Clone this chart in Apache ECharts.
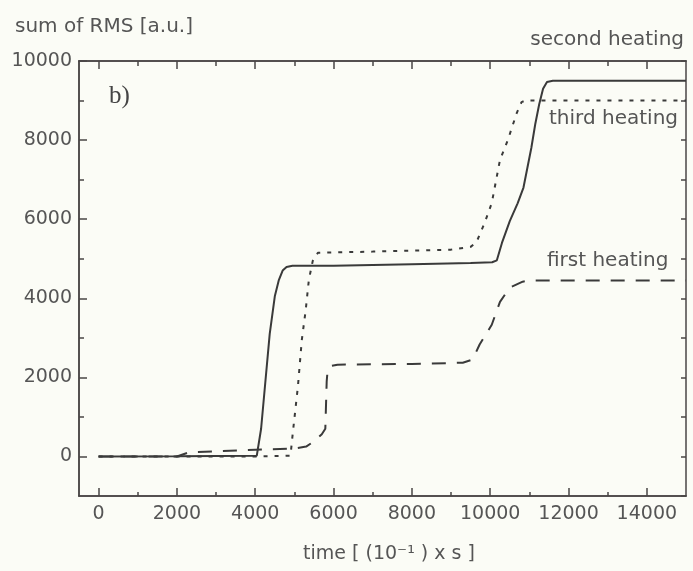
<!DOCTYPE html>
<html>
<head>
<meta charset="utf-8">
<script src="https://cdn.jsdelivr.net/npm/echarts@6/dist/echarts.min.js"></script>
<style>
html,body{margin:0;padding:0;background:#fbfcf6;}
#c{width:693px;height:571px;}
</style>
</head>
<body>
<div id="c"></div>
<script>
// ---- data (time [0.1 s], sum of RMS [a.u.]) ----
var firstHeating = [[0,0],[2000,0],[2300,100],[3000,130],[4000,170],[5000,200],[5300,250],[5500,380],[5700,560],[5790,700],[5825,1900],[5850,2200],[5950,2290],[6100,2320],[8000,2340],[9300,2370],[9550,2450],[9730,2830],[10040,3330],[10250,3910],[10500,4270],[10830,4420],[11000,4450],[15000,4450]];
var secondHeating = [[0,0],[2000,5],[4040,20],[4150,700],[4370,3100],[4500,4050],[4600,4450],[4700,4700],[4800,4790],[4950,4820],[6000,4820],[8000,4860],[9500,4890],[10050,4910],[10170,4960],[10300,5400],[10500,5950],[10700,6400],[10850,6800],[10950,7300],[11050,7800],[11150,8400],[11250,8900],[11350,9300],[11450,9470],[11600,9500],[15000,9500]];
var thirdHeating = [[0,0],[4000,0],[4900,20],[4960,600],[5090,1770],[5190,2950],[5290,3710],[5370,4470],[5470,4950],[5600,5150],[7000,5180],[9000,5230],[9500,5300],[9650,5420],[9860,5910],[10040,6410],[10250,7500],[10450,8000],[10680,8690],[10800,8960],[10900,9000],[15000,9000]];
var xMajorTicks = [0,2000,4000,6000,8000,10000,12000,14000];
var xMinorTicks = [1000,3000,5000,7000,9000,11000,13000];
var yMajorTicks = [0,2000,4000,6000,8000,10000];
var yMinorTicks = [1000,3000,5000,7000,9000];
var yRightTicks = [-1000,0,1000,2000,3000,4000,5000,6000,7000,8000,9000,10000];

var axisColor = '#4a4646';
var textColor = '#555';
var lineColor = '#3a3a3a';
var fontFam = 'DejaVu Sans';

function plain(v) { return String(v); }
function xAx(pos, ticks, len, labels) {
  return {
    type: 'value', position: pos, min: -500, max: 15000,
    axisLine: {show: true, onZero: false, lineStyle: {color: axisColor, width: 1.5}},
    axisTick: {show: true, inside: true, length: len, customValues: ticks, lineStyle: {color: axisColor, width: 1.5}},
    axisLabel: labels ? {show: true, customValues: ticks, formatter: plain, margin: 9, color: textColor, fontFamily: fontFam, fontSize: 19} : {show: false},
    splitLine: {show: false}
  };
}
function yAx(pos, ticks, len, labels) {
  return {
    type: 'value', position: pos, min: -1000, max: 10000,
    axisLine: {show: true, onZero: false, lineStyle: {color: axisColor, width: 1.5}},
    axisTick: {show: true, inside: true, length: len, customValues: ticks, lineStyle: {color: axisColor, width: 1.5}},
    axisLabel: labels ? {show: true, customValues: ticks, formatter: plain, margin: 7, color: textColor, fontFamily: fontFam, fontSize: 19} : {show: false},
    splitLine: {show: false}
  };
}

var chart = echarts.init(document.getElementById('c'));
chart.setOption({
  backgroundColor: '#fbfcf6',
  animation: false,
  grid: {left: 79, right: 7, top: 61, bottom: 75, containLabel: false},
  xAxis: [
    xAx('bottom', xMajorTicks, 8, true),
    xAx('bottom', xMinorTicks, 4, false),
    xAx('top', xMajorTicks, 8, false),
    xAx('top', xMinorTicks, 5, false)
  ],
  yAxis: [
    yAx('left', yMajorTicks, 8, true),
    yAx('left', yMinorTicks, 5, false),
    yAx('right', yRightTicks, 5, false)
  ],
  series: [
    {name: 'first heating', type: 'line', data: firstHeating, showSymbol: false, symbol: 'none',
     lineStyle: {color: lineColor, width: 2, type: [14, 11]}},
    {name: 'third heating', type: 'line', data: thirdHeating, showSymbol: false, symbol: 'none',
     lineStyle: {color: lineColor, width: 2, type: [4, 7]}},
    {name: 'second heating', type: 'line', data: secondHeating, showSymbol: false, symbol: 'none',
     lineStyle: {color: lineColor, width: 2, type: 'solid'}}
  ],
  graphic: [
    {type: 'text', x: 15, y: 27, style: {text: 'sum of RMS [a.u.]', fill: textColor, font: '20px "DejaVu Sans"', textAlign: 'left', textVerticalAlign: 'middle'}},
    {type: 'text', x: 684, y: 40, style: {text: 'second heating', fill: textColor, font: '20px "DejaVu Sans"', textAlign: 'right', textVerticalAlign: 'middle'}},
    {type: 'text', x: 549, y: 119, style: {text: 'third heating', fill: textColor, font: '20px "DejaVu Sans"', textAlign: 'left', textVerticalAlign: 'middle'}},
    {type: 'text', x: 547, y: 261, style: {text: 'first heating', fill: textColor, font: '20px "DejaVu Sans"', textAlign: 'left', textVerticalAlign: 'middle'}},
    {type: 'text', x: 109, y: 96, style: {text: 'b)', fill: '#444', font: '25px "Liberation Serif"', textAlign: 'left', textVerticalAlign: 'middle'}},
    {type: 'text', x: 389, y: 554, style: {text: 'time [ (10\u207B\u00B9 ) x s ]', fill: textColor, font: '19px "DejaVu Sans"', textAlign: 'center', textVerticalAlign: 'middle'}}
  ]
});
</script>
</body>
</html>
